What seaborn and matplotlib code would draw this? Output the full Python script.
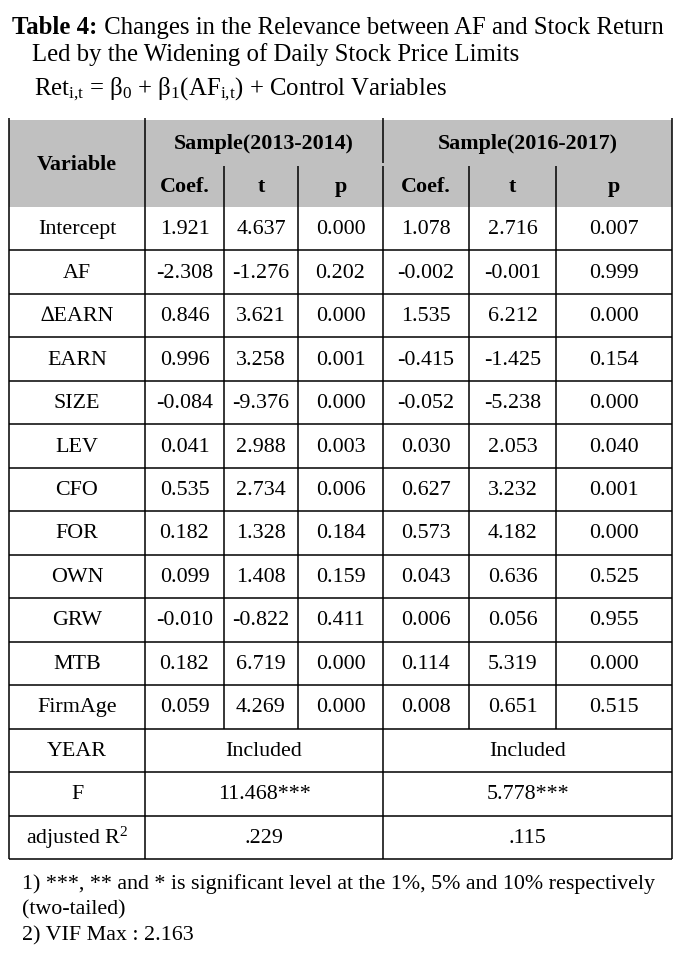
import matplotlib
matplotlib.use("Agg")
import matplotlib.pyplot as plt
import seaborn as sns

# ---- table data -------------------------------------------------------
variables = ["Intercept", "AF", "\u2206EARN", "EARN", "SIZE", "LEV", "CFO",
             "FOR", "OWN", "GRW", "MTB", "FirmAge"]
coef_1314 = ["1.921", "-2.308", "0.846", "0.996", "-0.084", "0.041", "0.535",
             "0.182", "0.099", "-0.010", "0.182", "0.059"]
t_1314 = ["4.637", "-1.276", "3.621", "3.258", "-9.376", "2.988", "2.734",
          "1.328", "1.408", "-0.822", "6.719", "4.269"]
p_1314 = ["0.000", "0.202", "0.000", "0.001", "0.000", "0.003", "0.006",
          "0.184", "0.159", "0.411", "0.000", "0.000"]
coef_1617 = ["1.078", "-0.002", "1.535", "-0.415", "-0.052", "0.030", "0.627",
             "0.573", "0.043", "0.006", "0.114", "0.008"]
t_1617 = ["2.716", "-0.001", "6.212", "-1.425", "-5.238", "2.053", "3.232",
          "4.182", "0.636", "0.056", "5.319", "0.651"]
p_1617 = ["0.007", "0.999", "0.000", "0.154", "0.000", "0.040", "0.001",
          "0.000", "0.525", "0.955", "0.000", "0.515"]

summary_labels = ["YEAR", "F", "adjusted R$^2$"]
summary_1314 = ["Included", "11.468***", ".229"]
summary_1617 = ["Included", "5.778***", ".115"]

samples = ["Sample(2013-2014)", "Sample(2016-2017)"]
sub_heads = ["Coef.", "t", "p"]

footnotes = ["1) ***, ** and * is significant level at the 1%, 5% and 10% respectively",
             "(two-tailed)",
             "2) VIF Max : 2.163"]

# ---- style ------------------------------------------------------------
sns.set_theme(style="white")
plt.rcParams["font.family"] = ["Liberation Serif", "DejaVu Serif"]
plt.rcParams["mathtext.fontset"] = "custom"
plt.rcParams["mathtext.rm"] = "Liberation Serif"
plt.rcParams["mathtext.it"] = "Liberation Serif:italic"
plt.rcParams["mathtext.bf"] = "Liberation Serif:bold"

W, H = 686, 956
fig = plt.figure(figsize=(W / 100, H / 100), dpi=100)
ax = fig.add_axes([0, 0, 1, 1])
ax.set_xlim(0, W)
ax.set_ylim(H, 0)
ax.axis("off")

ink = "#000000"
fs_title = 17.8
fs_cell = 15.8
fs_head = 15.8
lw = 1.1

# layout (pixel grid)
cols = [9, 145, 224, 298, 383, 469, 556, 672]
head_top, head_mid, head_bot = 120, 165, 207
n_rows = len(variables) + len(summary_labels)
row_h = (859 - head_bot) / n_rows
rows = [head_bot + i * row_h for i in range(n_rows + 1)]

# header background
ax.add_patch(plt.Rectangle((cols[0], head_top), cols[-1] - cols[0], head_bot - head_top,
                           facecolor="#c0c0c0", edgecolor="none", zorder=0))

# ---- title ------------------------------------------------------------
t1 = ax.text(12.5, 33.5, "Table 4:", fontsize=fs_title, fontweight="bold", va="baseline", color=ink)
ax.annotate(" Changes in the Relevance between AF and Stock Return", xy=(1, 0), xycoords=t1,
            va="bottom", ha="left", fontsize=fs_title, color=ink)
ax.text(32, 61, "Led by the Widening of Daily Stock Price Limits", fontsize=fs_title,
        va="baseline", color=ink)
ax.text(34, 95, r"Ret$_{\mathrm{i{,}t}}$ = $\mathrm{\beta}_0$ + $\mathrm{\beta}_1$(AF$_{\mathrm{i{,}t}}$) + Control Variables",
        fontsize=fs_title, va="baseline", color=ink)

# ---- header -----------------------------------------------------------
ax.text((cols[0] + cols[1]) / 2, (head_top + head_bot) / 2 + 1, "Variable", fontsize=fs_head,
        fontweight="bold", ha="center", va="center", color=ink)
for k, s in enumerate(samples):
    x0, x1 = cols[1 + 3 * k], cols[4 + 3 * k]
    ax.text((x0 + x1) / 2, (head_top + head_mid) / 2 + 1, s, fontsize=fs_head,
            fontweight="bold", ha="center", va="center", color=ink)
    for j, sh in enumerate(sub_heads):
        c = 1 + 3 * k + j
        ax.text((cols[c] + cols[c + 1]) / 2, (head_mid + head_bot) / 2 + 1, sh, fontsize=fs_head,
                fontweight="bold", ha="center", va="center", color=ink)

# ---- body -------------------------------------------------------------
body_cols = [variables, coef_1314, t_1314, p_1314, coef_1617, t_1617, p_1617]
for i in range(len(variables)):
    yc = (rows[i] + rows[i + 1]) / 2 + 1
    for c, col in enumerate(body_cols):
        ax.text((cols[c] + cols[c + 1]) / 2, yc, col[i], fontsize=fs_cell,
                ha="center", va="center", color=ink)

for i, lab in enumerate(summary_labels):
    r = len(variables) + i
    yc = (rows[r] + rows[r + 1]) / 2 + 1
    ax.text((cols[0] + cols[1]) / 2, yc, lab, fontsize=fs_cell, ha="center", va="center", color=ink)
    ax.text((cols[1] + cols[4]) / 2, yc, summary_1314[i], fontsize=fs_cell, ha="center", va="center", color=ink)
    ax.text((cols[4] + cols[7]) / 2, yc, summary_1617[i], fontsize=fs_cell, ha="center", va="center", color=ink)

# ---- grid lines -------------------------------------------------------
bottom = rows[-1]
for x in (cols[0], cols[1], cols[7]):
    ax.plot([x, x], [head_top - 2, bottom], color=ink, lw=lw, solid_capstyle="butt")
ax.plot([cols[4], cols[4]], [head_top - 2, head_mid - 2], color=ink, lw=lw, solid_capstyle="butt")
ax.plot([cols[4], cols[4]], [head_mid + 1, bottom], color=ink, lw=lw, solid_capstyle="butt")
for c in (2, 3, 5, 6):
    ax.plot([cols[c], cols[c]], [head_mid + 1, rows[len(variables)]], color=ink, lw=lw,
            solid_capstyle="butt")
for y in rows[1:]:
    ax.plot([cols[0], cols[-1]], [y, y], color=ink, lw=lw, solid_capstyle="butt")

# ---- footnotes --------------------------------------------------------
for k, note in enumerate(footnotes):
    ax.text(22, 889 + k * 25.5, note, fontsize=fs_cell, va="baseline", color=ink)

fig.savefig("out.png", dpi=100)
